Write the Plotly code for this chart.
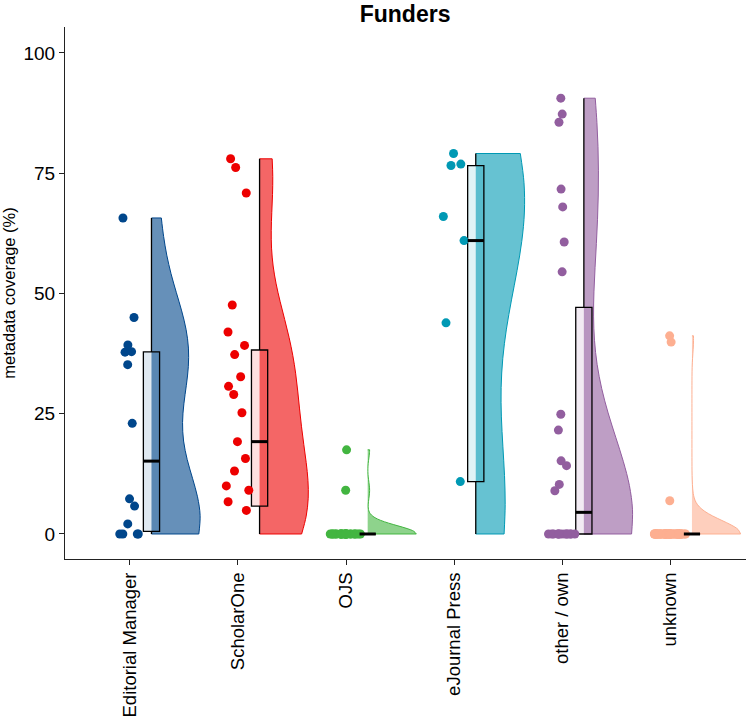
import numpy as np
import plotly.graph_objects as go

categories = ["Editorial Manager", "ScholarOne", "OJS", "eJournal Press", "other / own", "unknown"]
colors = ["#00468B", "#ED0000", "#42B540", "#0099B4", "#925E9F", "#FDAF91"]

# non-zero values (metadata coverage, %)
nz_em = [65.7, 45.0, 39.3, 37.8, 37.9, 35.2, 23.0, 7.3, 5.8, 2.1]
nz_s1 = [78.0, 76.2, 70.9, 47.6, 42.0, 39.2, 37.3, 32.7, 30.7, 29.0, 25.2, 19.2,
         15.7, 13.1, 10.0, 9.1, 6.7, 4.9]
nz_ojs = [17.5, 9.1]
nz_ejp = [79.1, 76.9, 76.6, 66.0, 61.0, 43.9, 10.9]
nz_oth = [90.6, 87.3, 85.6, 71.7, 68.0, 60.7, 54.5, 24.9, 21.6, 15.2, 14.2, 10.3, 9.0]
nz_unk = [41.2, 39.9, 6.9]
nonzero = [nz_em, nz_s1, nz_ojs, nz_ejp, nz_oth, nz_unk]

# number of journals at 0 % (estimated from boxes / violins)
zero_counts = [4, 5, 25, 2, 13, 60]
# whether the 0 % journals appear as dots
zero_dots_shown = [True, False, True, False, True, True]

yticks = [0, 25, 50, 75, 100]


def rgba(hexc, a):
    h = hexc.lstrip("#")
    r, g, b = int(h[0:2], 16), int(h[2:4], 16), int(h[4:6], 16)
    return f"rgba({r},{g},{b},{a})"


def bw_nrd0(x):
    x = np.asarray(x, float)
    hi = np.std(x, ddof=1)
    iqr = np.percentile(x, 75) - np.percentile(x, 25)
    lo = min(hi, iqr / 1.34)
    if not lo:
        lo = hi or abs(x[0]) or 1.0
    return 0.9 * lo * len(x) ** -0.2


def box_stats(x):
    x = np.asarray(x, float)
    q1, med, q3 = np.percentile(x, [25, 50, 75])
    iqr = q3 - q1
    lo = x[x >= q1 - 1.5 * iqr].min()
    hi = x[x <= q3 + 1.5 * iqr].max()
    return float(q1), float(med), float(q3), float(lo), float(hi)


FONT = "Liberation Sans, Arial, Helvetica, sans-serif"
SHIFT = 0.2      # violin/box offset from category position
BOXW = 0.15

fig = go.Figure()

data = [list(nz) + [0] * z for nz, z in zip(nonzero, zero_counts)]

for i, (cat, col, v) in enumerate(zip(categories, colors, data)):
    pos = i + 1
    fig.add_trace(go.Violin(
        x0=pos + SHIFT, y=v, side="positive", width=0.9, scalemode="width",
        spanmode="hard", bandwidth=bw_nrd0(v),
        line=dict(color=col, width=1), fillcolor=rgba(col, 0.6),
        points=False, box_visible=False, meanline_visible=False,
        showlegend=False, hoverinfo="skip", name=cat))

for i, (cat, col, v) in enumerate(zip(categories, colors, data)):
    pos = i + 1
    q1, med, q3, lo, hi = box_stats(v)
    fig.add_trace(go.Box(
        x=[pos + SHIFT], q1=[q1], median=[med], q3=[q3], lowerfence=[lo], upperfence=[hi],
        width=BOXW, whiskerwidth=0, boxpoints=False,
        line=dict(color="black", width=1.3), fillcolor=rgba(col, 0.12),
        showlegend=False, hoverinfo="skip", name=cat))
    fig.add_trace(go.Scatter(
        x=[pos + SHIFT - BOXW / 2, pos + SHIFT + BOXW / 2], y=[med, med],
        mode="lines", line=dict(color="black", width=3),
        showlegend=False, hoverinfo="skip"))

for i, (cat, col) in enumerate(zip(categories, colors)):
    pos = i + 1
    dots = list(nonzero[i]) + ([0] * zero_counts[i] if zero_dots_shown[i] else [])
    fig.add_trace(go.Box(
        x0=pos, y=dots, width=0.3, boxpoints="all", jitter=1, pointpos=0,
        line=dict(width=0, color="rgba(0,0,0,0)"), fillcolor="rgba(0,0,0,0)",
        marker=dict(color=col, size=9, line=dict(width=0)),
        showlegend=False, hoverinfo="skip", name=cat))

fig.update_layout(
    width=746, height=718,
    margin=dict(l=65, r=0, t=27, b=157),
    plot_bgcolor="white", paper_bgcolor="white",
    boxmode="overlay", violinmode="overlay",
    font=dict(family=FONT, color="black"),
    title=dict(text="<b>Funders</b>", x=0.543, xanchor="center", y=0.9805, yanchor="middle",
               font=dict(size=23, family=FONT, color="black")),
    showlegend=False,
)
fig.update_xaxes(
    range=[0.4, 6.7], tickvals=list(range(1, 7)), ticktext=categories,
    tickangle=-90, ticks="outside", ticklen=5, tickcolor="#222222",
    showline=True, linecolor="#222222", linewidth=1.2, showgrid=False, zeroline=False,
    tickfont=dict(size=18.5, family=FONT, color="black"))
fig.update_yaxes(
    range=[-5.2, 105.4], tickvals=yticks, ticks="outside", ticklen=5, tickcolor="#222222",
    showline=True, linecolor="#222222", linewidth=1.2, showgrid=False, zeroline=False,
    tickfont=dict(size=19, family=FONT, color="black"),
    title=dict(text="metadata coverage (%)", font=dict(size=16.5, family=FONT, color="black"),
               standoff=8))

fig.write_html("out.html")
